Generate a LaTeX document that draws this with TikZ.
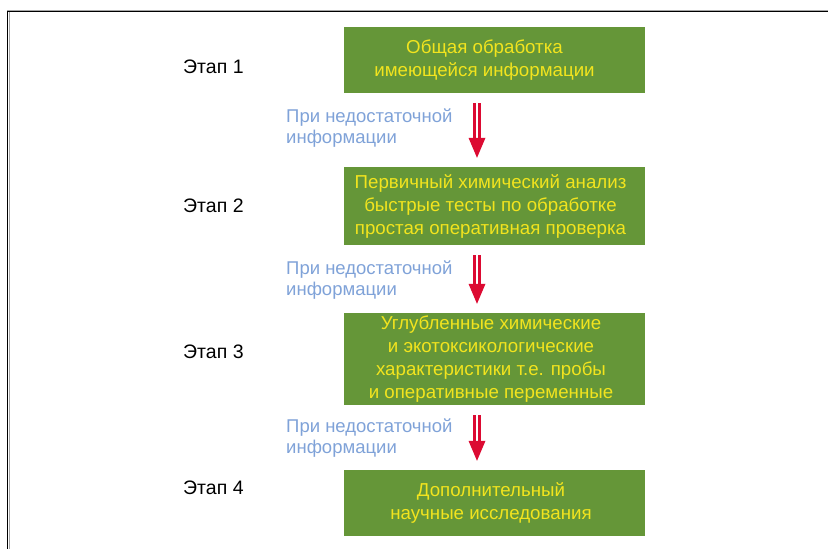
\documentclass[tikz,border=0pt]{standalone}
\usepackage{fontspec}
\setmainfont{Liberation Sans}
\definecolor{boxgreen}{HTML}{659638}
\definecolor{boxyellow}{HTML}{F2E41E}
\definecolor{noteblue}{HTML}{7FA2D8}
\definecolor{arrred}{HTML}{DC0A32}
\begin{document}
\begin{tikzpicture}[x=1pt,y=-1pt,
  stagebox/.style={fill=boxgreen, minimum width=301pt, inner sep=0pt},
  boxtext/.style={text=boxyellow, align=center, font=\fontsize{18.7}{23}\selectfont, inner sep=0pt},
  stagelabel/.style={anchor=west, font=\fontsize{19.5}{22}\selectfont, inner sep=0pt},
  note/.style={anchor=west, align=left, text=noteblue, font=\fontsize{18.5}{21}\selectfont, inner sep=0pt},
  shaft/.style={draw=arrred, double=white, double distance=1.4pt, line width=3.3pt},
  head/.style={fill=arrred}
]
\useasboundingbox (0,0) rectangle (828,549);
% frame
\draw[gray!70, line width=1pt] (7,10) -- (828,10);
\draw[black, line width=1.5pt] (7.5,11.5) -- (828,11.5);
\draw[black, line width=1.5pt] (7.5,11) -- (7.5,549);
\draw[gray!70, line width=1pt] (9,12) -- (9,549);

% boxes
\node[stagebox, minimum height=66pt] (b1) at (494.5,60) {};
\node[stagebox, minimum height=78pt] (b2) at (494.5,206) {};
\node[stagebox, minimum height=92pt] (b3) at (494.5,359) {};
\node[stagebox, minimum height=66pt] (b4) at (494.5,503) {};
\node[boxtext] (x1) at ([xshift=-10pt]b1.center) {Общая обработка\\имеющейся информации};
\node[boxtext] (x2) at ([xshift=-4pt]b2.center) {Первичный химический анализ\\быстрые тесты по обработке\\простая оперативная проверка};
\node[boxtext] (x3) at ([xshift=-3.5pt]b3.center) {Углубленные химические\\и экотоксикологические\\характеристики т.е. пробы\\и оперативные переменные};
\node[boxtext] (x4) at ([xshift=-3.5pt]b4.center) {Дополнительный\\научные исследования};

% stage labels
\node[stagelabel] (s1) at (183,67) {Этап 1};
\node[stagelabel] (s2) at (183,206) {Этап 2};
\node[stagelabel] (s3) at (183,352) {Этап 3};
\node[stagelabel] (s4) at (183,488) {Этап 4};

% notes
\node[note] (n1) at (286,128) {При недостаточной\\информации};
\node[note] (n2) at (286,280) {При недостаточной\\информации};
\node[note] (n3) at (286,438) {При недостаточной\\информации};

% arrows
\foreach \a/\b [count=\i] in {b1/b2,b2/b3,b3/b4}{
  \coordinate (t\i) at ([yshift=-10pt]\a.south -| 477,0);
  \coordinate (h\i) at ([yshift=9pt]\b.north -| 477,0);
  \draw[shaft] (t\i) -- ([yshift=19pt]h\i);
  \fill[head] ([xshift=-8.5pt,yshift=20pt]h\i) -- ([xshift=8.5pt,yshift=20pt]h\i) -- (h\i) -- cycle;
}
\end{tikzpicture}
\end{document}
